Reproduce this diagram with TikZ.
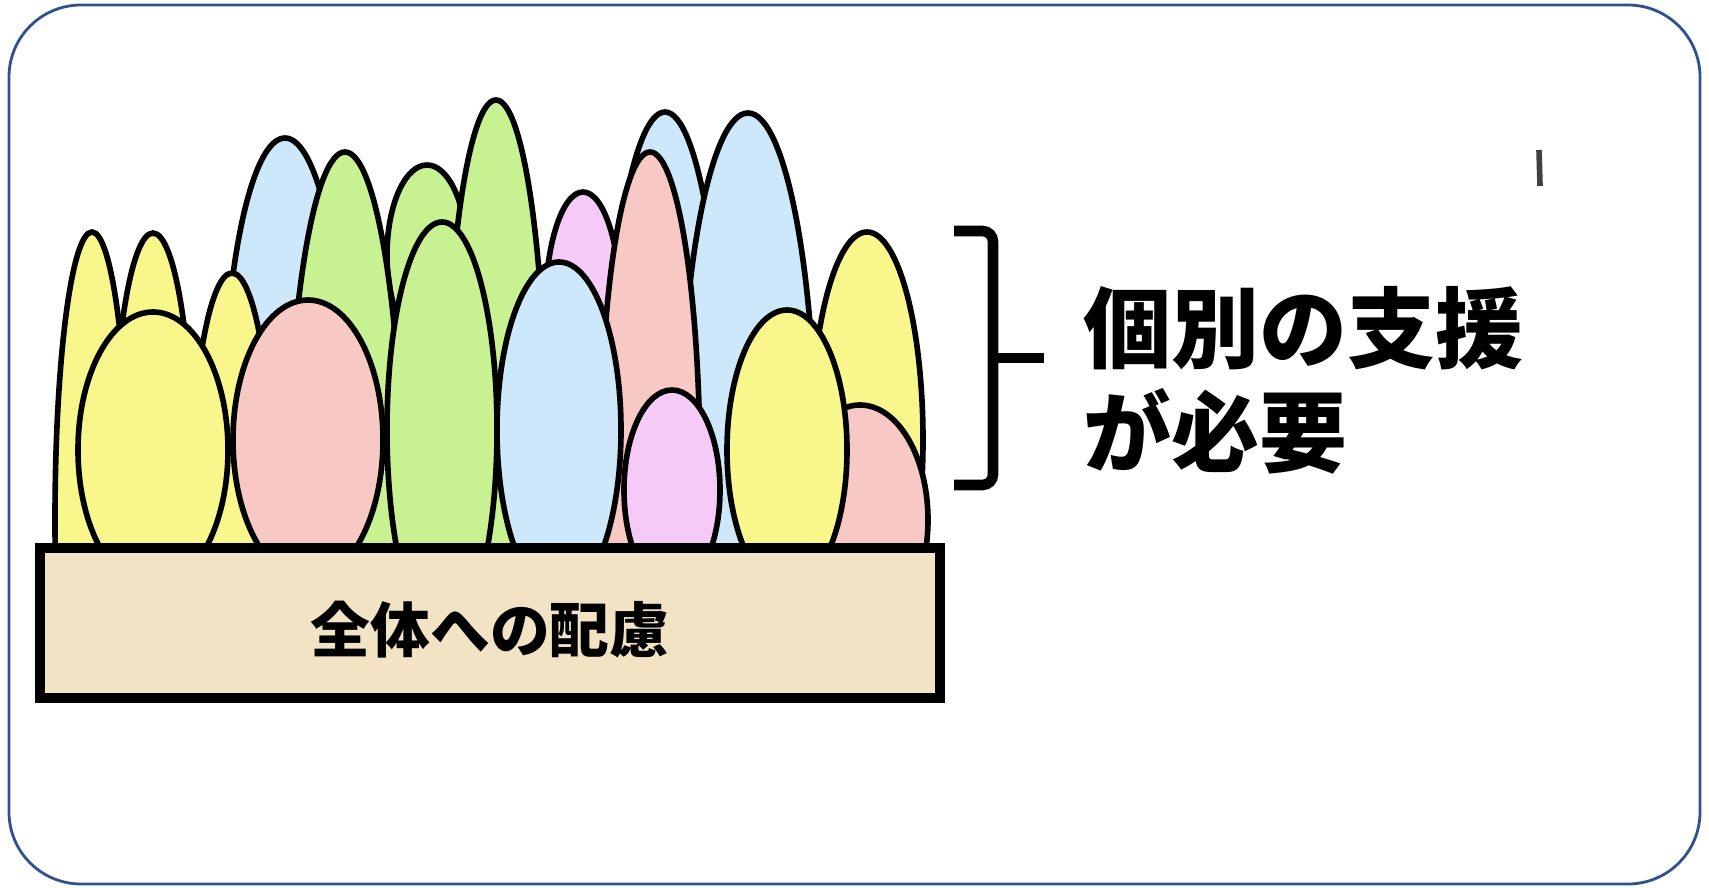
\documentclass[tikz,border=0pt]{standalone}
\usepackage{fontspec}
\usepackage{xcolor}
\usepackage{tikz}
\usetikzlibrary{positioning}

\newfontfamily\jpfont{Noto Sans CJK JP}

\definecolor{eggyellow}{RGB}{249,247,140}
\definecolor{eggpink}{RGB}{248,200,196}
\definecolor{egggreen}{RGB}{200,242,145}
\definecolor{eggblue}{RGB}{204,232,250}
\definecolor{egglilac}{RGB}{246,202,246}
\definecolor{basetan}{RGB}{241,227,196}
\definecolor{framecol}{RGB}{47,82,143}

\begin{document}
\begin{tikzpicture}[x=0.01cm, y=-0.01cm]

	\tikzset{
		eggline/.style={draw=black, line width=1.6pt},
		bracket/.style={line width=3pt, rounded corners=3pt},
		baseboard/.style={draw=black, line width=2.8pt, fill=basetan},
	}

	% --- one egg: centre x, centre y, x radius, y radius, colour ---
	\newcommand{\egg}[5]{
		\filldraw[eggline, fill=#5] (#1,#2) ellipse [x radius=#3, y radius=#4];
	}

	\useasboundingbox (0,0) rectangle (1709,888);

	% outer frame
	\draw[framecol, line width=0.8pt, rounded corners=0.72cm] (9,5) rectangle (1700,884);

	\begin{scope}
		% eggs stop at the top of the board
		\clip (0,0) rectangle (1709,548);

		% back row
		\egg{285}{438}{62}{300}{eggblue}
		\egg{583}{312}{38}{120}{egglilac}
		\egg{665}{470}{60}{358}{eggblue}
		\egg{867}{440}{56}{208}{eggyellow}
		\egg{748}{470}{68}{357}{eggblue}
		\egg{650}{470}{50}{318}{eggpink}
		\egg{427}{255}{40}{90}{egggreen}
		\egg{496}{450}{50}{350}{egggreen}
		\egg{345}{522}{58}{370}{egggreen}
		\egg{92}{520}{37}{288}{eggyellow}
		\egg{153}{483}{40}{250}{eggyellow}
		\egg{232}{523}{42}{250}{eggyellow}

		% front row
		\egg{153}{450}{75}{138}{eggyellow}
		\egg{308}{440}{75}{140}{eggpink}
		\egg{442}{430}{55}{208}{egggreen}
		\egg{559}{430}{62}{168}{eggblue}
		\egg{672}{490}{48}{100}{egglilac}
		\egg{860}{520}{68}{115}{eggpink}
		\egg{787}{450}{60}{140}{eggyellow}
	\end{scope}

	% the board everything stands on
	\draw[baseboard] (40,548) rectangle (940,698);
	\node (base) at (490,630) {\jpfont\bfseries\fontsize{17}{20}\selectfont 全体への配慮};

	% bracket
	\draw[bracket] (954,231) -- (993,231) -- (993,485) -- (954,485);
	\coordinate (tick) at (1044,358);
	\draw[line width=3pt] (993,358) -- (tick);

	\node (need) [anchor=west, align=left, inner sep=0pt, font=\jpfont\bfseries\fontsize{25}{29.5}\selectfont]
		at (1083,380) {個別の支援\\が必要};

	% stray mark
	\draw[black!75, line width=1.6pt] (1539,150) -- (1540,186);

\end{tikzpicture}
\end{document}
